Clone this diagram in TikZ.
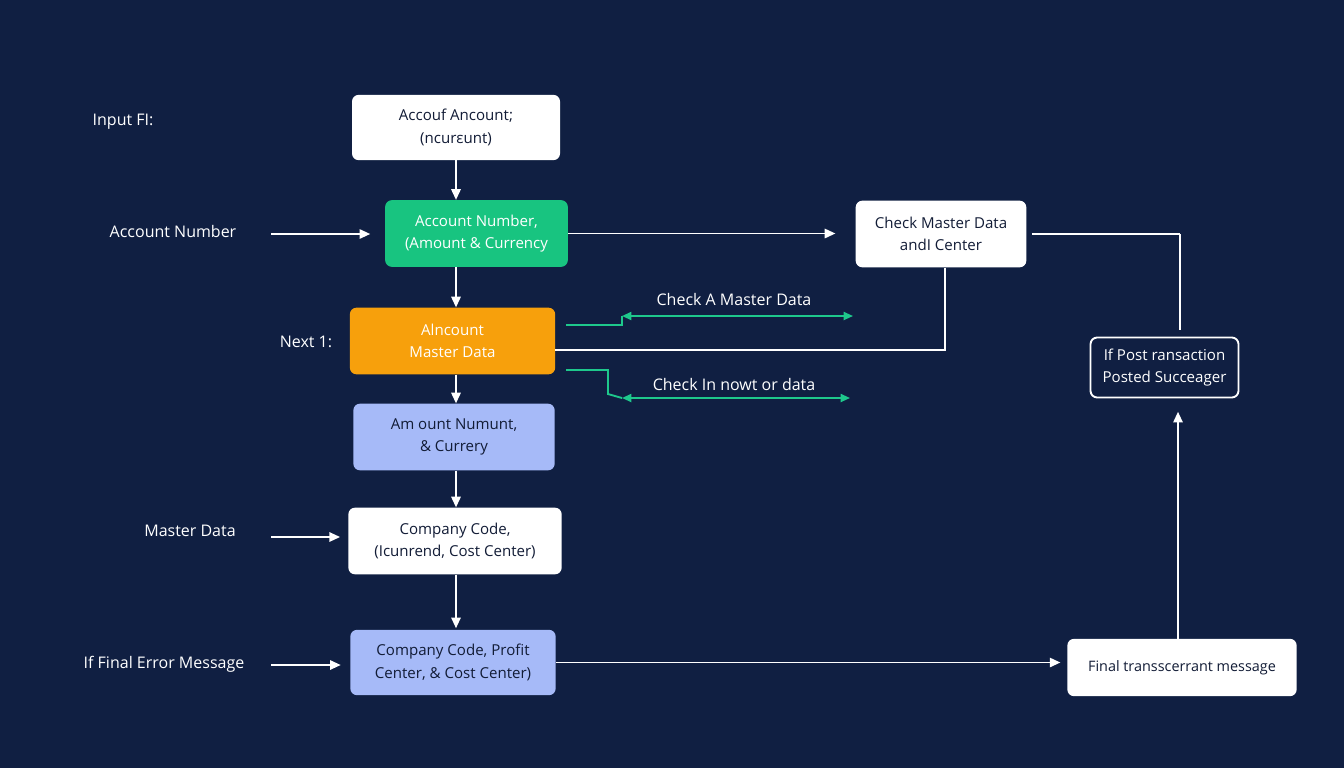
\documentclass[tikz,border=0pt]{standalone}
\usepackage{fontspec}
\setmainfont{Open Sans}
\usetikzlibrary{arrows.meta}
\definecolor{bg}{RGB}{16,31,66}
\definecolor{grn}{RGB}{24,196,128}
\definecolor{org}{RGB}{247,160,12}
\definecolor{lb}{RGB}{166,186,248}
\definecolor{ink}{RGB}{18,28,54}
\definecolor{garrow}{RGB}{30,200,140}
\begin{document}
\begin{tikzpicture}[x=0.75pt,y=-0.75pt,
  bx/.style={rounded corners=5pt, align=center, inner sep=0pt,
    font=\fontsize{11.3}{17}\selectfont},
  wbox/.style={bx, fill=white, text=ink},
  gbox/.style={bx, fill=grn, text=white},
  obox/.style={bx, fill=org, text=white},
  lbox/.style={bx, fill=lb, text=ink},
  dbox/.style={bx, fill=bg, draw=white, line width=1.4pt, text=white},
  lbl/.style={text=white, font=\fontsize{12}{15}\selectfont, inner sep=0pt},
  wl/.style={draw=white, line width=1.4pt},
  wa/.style={wl, -{Triangle[length=8pt,width=7pt]}},
  gl/.style={draw=garrow, line width=1.4pt},
  ga/.style={gl, {Triangle[length=7pt,width=6pt]}-{Triangle[length=7pt,width=6pt]}}]
\fill[bg] (0,0) rectangle (1344,768);

% boxes
\node[wbox, minimum width=156pt, minimum height=49pt] (b1) at (456,127.5) {Accouf Ancount;\\(ncurεunt)};
\node[gbox, minimum width=137pt, minimum height=50pt] (b2) at (476.5,233.5) {Account Number,\\(Amount \& Currency};
\node[obox, minimum width=154pt, minimum height=50pt] (b3) at (452.5,341) {Alncount\\Master Data};
\node[lbox, minimum width=151pt, minimum height=50pt] (b4) at (454,437) {Am ount Numunt,\\\& Currery};
\node[wbox, minimum width=160pt, minimum height=50pt] (b5) at (455,541) {Company Code,\\(Icunrend, Cost Center)};
\node[lbox, minimum width=154pt, minimum height=49pt] (b6) at (453,662.5) {Company Code, Profit\\Center, \& Cost Center)};
\node[wbox, minimum width=128pt, minimum height=50pt] (chk) at (941,234) {Check Master Data\\andI Center};
\node[dbox, minimum width=111pt, minimum height=45pt] (ifp) at (1164.5,367.5) {If Post ransaction\\Posted Succeager};
\node[wbox, minimum width=172pt, minimum height=43pt, font=\fontsize{10.8}{14}\selectfont] (fin) at (1182,667.5) {Final transscerrant message};

% left labels
\node[lbl] (l1) at (123,122) {Input FI:};
\node[lbl] (l2) at (173,231) {Account Number};
\node[lbl] (l3) at (306,342) {Next 1:};
\node[lbl] (l4) at (190,531) {Master Data};
\node[lbl] (l5) at (164,664) {If Final Error Message};
\coordinate (s2) at (271,234);
\coordinate (s4) at (271,537);
\coordinate (s5) at (271,665);

% vertical flow
\draw[wa] (b1.south) -- (b1.south |- b2.north);
\draw[wa] (b1.south |- b2.south) -- (b1.south |- b3.north);
\draw[wa] (b1.south |- b3.south) -- (b1.south |- b4.north);
\draw[wa] (b1.south |- b4.south) -- (b1.south |- b5.north);
\draw[wa, shorten >=1pt] (b1.south |- b5.south) -- (b1.south |- b6.north);

% side inputs
\draw[wa, shorten >=11pt] (s2) -- (s2 -| b2.west);
\draw[wa, shorten >=6pt] (s4) -- (s4 -| b5.west);
\draw[wa, shorten >=7pt] (s5) -- (s5 -| b6.west);

% right side
\draw[wa, shorten >=15pt] (b2.east) -- (b2.east -| chk.west);
\coordinate (rc) at (1180,234);
\draw[wl, shorten <=4pt] (chk.east) -- (rc);
\draw[wl, shorten >=5pt] (rc) -- (rc |- ifp.north);
\coordinate (oc) at (945,350);
\draw[wl] (oc |- chk.south) -- (oc) -- (oc -| b3.east);
\draw[wa, shorten >=5pt] (b6.east) -- (b6.east -| fin.west);
\coordinate (fu) at (1178,639);
\draw[wa, shorten >=10pt] (fu) -- (fu |- ifp.south);

% green connectors
\coordinate (g1s) at (566,325);
\coordinate (g1m) at (622,316);
\coordinate (g1e) at (853,316);
\draw[gl] (g1s) -| (g1m);
\draw[ga] (g1m) -- (g1e);
\node[lbl] (t1) at (734,299) {Check A Master Data};
\coordinate (g2s) at (566,370);
\coordinate (g2a) at (608,370);
\coordinate (g2b) at (608,394);
\coordinate (g2m) at (622,398);
\coordinate (g2e) at (850,398);
\draw[gl] (g2s) -- (g2a) -- (g2b) -- (g2m);
\draw[ga] (g2m) -- (g2e);
\node[lbl] (t2) at (734,384) {Check In nowt or data};
\end{tikzpicture}
\end{document}
